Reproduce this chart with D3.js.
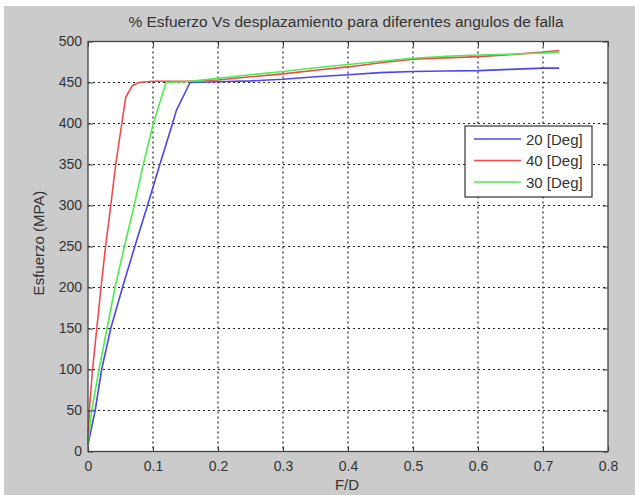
<!DOCTYPE html>
<html>
<head>
<meta charset="utf-8">
<script src="https://cdn.jsdelivr.net/npm/d3@7"></script>
<style>
  html, body { margin: 0; padding: 0; background: #ffffff; }
  svg { display: block; }
  text { font-family: "Liberation Sans", Arial, sans-serif; }
</style>
</head>
<body>
<svg id="chart" width="635" height="495"></svg>
<script>
// Stress vs. displacement curves for three fault angles
const xTicks = [0, 0.1, 0.2, 0.3, 0.4, 0.5, 0.6, 0.7, 0.8];
const yTicks = [0, 50, 100, 150, 200, 250, 300, 350, 400, 450, 500];

const fd20 = [0, 0.011, 0.021, 0.035, 0.053, 0.072, 0.0915, 0.1105, 0.13, 0.136, 0.157, 0.2, 0.25, 0.3, 0.35, 0.4, 0.45, 0.5, 0.55, 0.6, 0.65, 0.7, 0.725];
const s20  = [8, 50, 100, 150, 200, 250, 300, 350, 400, 416, 450, 451, 452, 454, 457, 459.5, 462, 463.5, 464, 464.5, 466, 467.5, 467.5];

const fd40 = [0, 0.002, 0.007, 0.02, 0.027, 0.035, 0.0426, 0.052, 0.058, 0.068, 0.078, 0.1, 0.15, 0.2, 0.25, 0.3, 0.35, 0.4, 0.45, 0.5, 0.55, 0.6, 0.65, 0.7, 0.725];
const s40  = [10, 50, 100, 200, 250, 300, 350, 400, 432, 446, 450, 451.5, 451.5, 453, 457, 460.5, 465, 469, 474, 478.5, 480, 481.5, 484, 487, 489];

const fd30 = [0, 0.0057, 0.017, 0.0415, 0.056, 0.071, 0.085, 0.1005, 0.12, 0.15, 0.2, 0.25, 0.3, 0.35, 0.4, 0.45, 0.5, 0.55, 0.6, 0.65, 0.7, 0.725];
const s30  = [10, 50, 100, 200, 250, 300, 350, 400, 450, 451, 455, 459.5, 463.5, 468, 472, 476, 479.5, 482, 483.5, 484.5, 486, 487];

const seriesNames = ["20 [Deg]", "40 [Deg]", "30 [Deg]"];
const seriesColors = ["#4848f2", "#f04a4a", "#4cee4c"];
const seriesX = [fd20, fd40, fd30];
const seriesY = [s20, s40, s30];

const svg = d3.select("#chart");
const W = 635, H = 495;
const plotL = 88, plotR = 608, plotT = 41.5, plotB = 451.5;

// figure background
svg.append("rect").attr("x", 4).attr("y", 6).attr("width", W - 4).attr("height", H - 6)
  .attr("fill", "#cbcbcb");

const x = d3.scaleLinear().domain([0, 0.8]).range([plotL, plotR]);
const y = d3.scaleLinear().domain([0, 500]).range([plotB, plotT]);

// plot area
svg.append("rect").attr("x", plotL).attr("y", plotT)
  .attr("width", plotR - plotL).attr("height", plotB - plotT).attr("fill", "#ffffff");

// dotted grid
const grid = svg.append("g").attr("stroke", "#222").attr("stroke-width", 1.2)
  .attr("stroke-dasharray", "2,3");
grid.selectAll("line.gx").data(xTicks.slice(1, -1)).join("line").attr("class", "gx")
  .attr("x1", d => x(d)).attr("x2", d => x(d)).attr("y1", plotT).attr("y2", plotB);
grid.selectAll("line.gy").data(yTicks.slice(1, -1)).join("line").attr("class", "gy")
  .attr("y1", d => y(d)).attr("y2", d => y(d)).attr("x1", plotL).attr("x2", plotR);

// curves
const line = d3.line().x(d => x(d[0])).y(d => y(d[1]));
seriesNames.forEach((name, i) => {
  const pts = seriesX[i].map((v, j) => [v, seriesY[i][j]]);
  svg.append("path").datum(pts).attr("d", line)
    .attr("fill", "none").attr("stroke", seriesColors[i]).attr("stroke-width", 1.6)
    .attr("stroke-linejoin", "round");
});

// axes with inward ticks on all sides
const tickLen = 5;
const axB = svg.append("g").attr("transform", `translate(0,${plotB})`)
  .call(d3.axisBottom(x).tickValues(xTicks).tickFormat(d => d === 0 ? "0" : d3.format(".1f")(d))
    .tickSizeInner(-tickLen).tickSizeOuter(0).tickPadding(10));
const axT = svg.append("g").attr("transform", `translate(0,${plotT})`)
  .call(d3.axisTop(x).tickValues(xTicks).tickFormat("").tickSizeInner(-tickLen).tickSizeOuter(0));
const axL = svg.append("g").attr("transform", `translate(${plotL},0)`)
  .call(d3.axisLeft(y).tickValues(yTicks).tickSizeInner(-tickLen).tickSizeOuter(0).tickPadding(6));
const axR = svg.append("g").attr("transform", `translate(${plotR},0)`)
  .call(d3.axisRight(y).tickValues(yTicks).tickFormat("").tickSizeInner(-tickLen).tickSizeOuter(0));
[axB, axT, axL, axR].forEach(a => {
  a.select(".domain").remove();
  a.selectAll(".tick line").attr("stroke", "#333").attr("stroke-width", 1);
  a.selectAll("text").attr("fill", "#333").style("font-size", "14px");
});

// axes box
svg.append("rect").attr("x", plotL).attr("y", plotT)
  .attr("width", plotR - plotL).attr("height", plotB - plotT)
  .attr("fill", "none").attr("stroke", "#444").attr("stroke-width", 1.3);

// titles
svg.append("text").attr("x", 346).attr("y", 27).attr("text-anchor", "middle")
  .attr("fill", "#333").style("font-size", "15.5px")
  .text("% Esfuerzo Vs desplazamiento para diferentes angulos de falla");
svg.append("text").attr("x", 347).attr("y", 490).attr("text-anchor", "middle")
  .attr("fill", "#333").style("font-size", "15px").text("F/D");
svg.append("text").attr("transform", "translate(44,243) rotate(-90)").attr("text-anchor", "middle")
  .attr("fill", "#333").style("font-size", "15px").text("Esfuerzo (MPA)");

// legend
const lg = svg.append("g");
lg.append("rect").attr("x", 465).attr("y", 126).attr("width", 127).attr("height", 71)
  .attr("fill", "#fff").attr("stroke", "#333").attr("stroke-width", 1.2);
seriesNames.forEach((name, i) => {
  const ly = 139 + i * 21.5;
  lg.append("line").attr("x1", 474).attr("x2", 521).attr("y1", ly).attr("y2", ly)
    .attr("stroke", seriesColors[i]).attr("stroke-width", 1.6);
  lg.append("text").attr("x", 526).attr("y", ly + 5.5).attr("fill", "#333")
    .style("font-size", "15px").text(name);
});
</script>
</body>
</html>
